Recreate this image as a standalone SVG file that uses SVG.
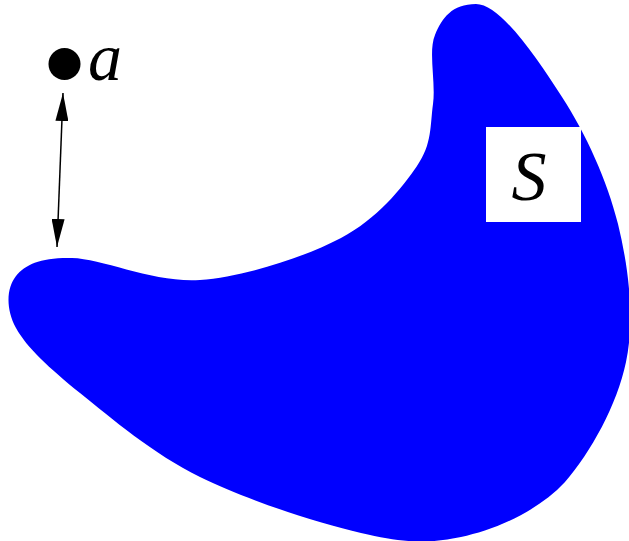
<svg xmlns="http://www.w3.org/2000/svg" width="629" height="541" viewBox="0 0 629 541">
<style>
.lbl{font-family:"Liberation Serif","Times New Roman",serif;font-style:italic;fill:#000}
.conn{stroke:#000;stroke-width:1.5;fill:none}
</style>
<defs>
<marker id="ah" viewBox="0 0 28 13" refX="28" refY="6.5" markerWidth="28" markerHeight="13" markerUnits="userSpaceOnUse" orient="auto-start-reverse">
<path d="M0,0 L28,6.5 L0,13 Z" fill="#000"/>
</marker>
</defs>
<rect width="629" height="541" fill="#fff"/>
<g id="S">
<path fill="#0000ff" d="M476,4 C501,4 538,60 562,97 C586,134 607,180 618,224 C628.7,268 635,319 626,362 C617,405 591,452 565,482 C537,512 494.5,530 461,537 C427.5,544 404.5,543 361,533 C317.5,523 246.8,500 200,477 C153.2,454 110.7,417.8 80,393 C49.3,368.2 26.7,347.5 16,328 C5.3,308.5 6.7,287.7 16,276 C25.3,264.3 41.3,257.3 72,258 C102.7,258.7 155.2,283.3 200,280 C244.8,276.7 304.8,257 341,238 C377.2,219 401.7,188.3 417,166 C432.3,143.7 430,125.8 433,104 C436,82.2 428,51.7 435,35 C442,18 452,4 476,4 Z"/>
<rect x="486" y="127" width="95" height="95" fill="#fff"/>
<text class="lbl" x="529" y="200" font-size="70" text-anchor="middle">S</text>
</g>
<g id="a">
<circle cx="64.5" cy="64" r="16" fill="#000"/>
<text class="lbl" x="88" y="80" font-size="68">a</text>
</g>
<g id="connectors">
<line class="conn" x1="63" y1="93" x2="57" y2="247" marker-start="url(#ah)" marker-end="url(#ah)"/>
</g>
</svg>
